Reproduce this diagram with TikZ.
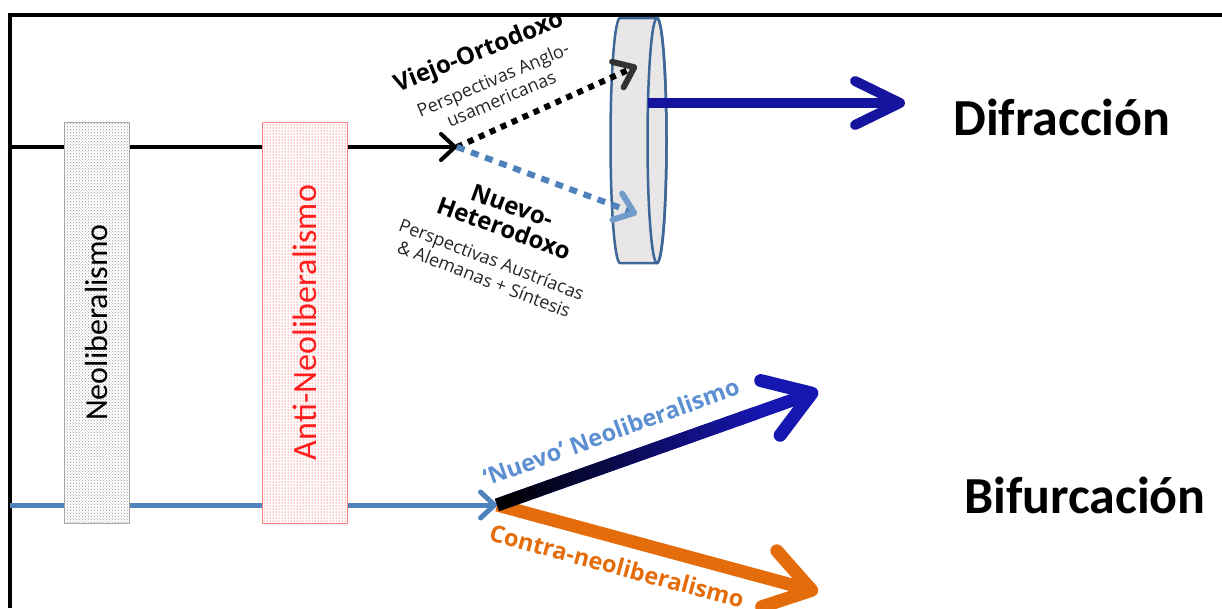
\documentclass[tikz,border=0pt]{standalone}
\usepackage{fontspec}
\setmainfont{Carlito}
\newfontfamily\labelfont{Open Sans}
\usetikzlibrary{arrows.meta,patterns,calc,positioning}
\definecolor{lineblue}{HTML}{4F81BD}
\definecolor{deepblue}{HTML}{1616B0}
\definecolor{diskedge}{HTML}{3C6796}
\definecolor{diskfill}{HTML}{E8E6E6}
\definecolor{textblue}{HTML}{5B8FD2}
\definecolor{contraorange}{HTML}{E46C0A}
\definecolor{antired}{HTML}{FF1E1E}
\tikzstyle{Bar} = [rectangle, rotate=90, minimum width=401pt, inner sep=0pt, preaction={fill=white}]
\tikzstyle{mainlabel} = [font=\fontsize{52}{56}\selectfont\bfseries]
\tikzstyle{branchhead} = [font=\labelfont\fontsize{24}{24}\selectfont\bfseries, align=center, inner sep=0pt]
\tikzstyle{branchsub} = [font=\labelfont\fontsize{18}{21}\selectfont, text=black!85, align=center, inner sep=0pt]
\tikzstyle{fatlabel} = [font=\labelfont\fontsize{23.5}{24}\selectfont\bfseries, inner sep=0pt]
\tikzstyle{thinarrow} = [line width=4pt, -{Straight Barb[length=14pt,width=26pt,round]}]
\tikzstyle{dotarrow} = [line width=6pt, dash pattern=on 6pt off 6pt, -{Straight Barb[length=18pt,width=28pt,round]}]
\tikzstyle{fatarrow} = [line width=13pt, -{Straight Barb[length=44pt,width=58pt,round]}]

\begin{document}
\begin{tikzpicture}[x=1pt,y=-1pt]
\useasboundingbox (0,0) rectangle (1222,608);
% frame
\draw[line width=3.5pt] (10,608) -- (10,15) -- (1222,15);

% disc
\draw[diskedge, fill=diskfill, line width=2.5pt] (657,18) -- (620,18) arc(90:270:9.5pt and 122.5pt) -- (657,263) arc(-90:90:9.5pt and 122.5pt) -- cycle;
\draw[diskedge, line width=2.5pt] (657,140.5) ellipse (9.5pt and 122.5pt);

% points
\coordinate (blackin) at (10,147);
\coordinate (forkA) at (457,147);
\coordinate (viejoend) at (637,66);
\coordinate (nuevoend) at (637,214);
\coordinate (diskout) at (648,103);
\coordinate (difrtip) at (905,103);
\coordinate (bluein) at (10,505);
\coordinate (forkB) at (497,505);
\coordinate (neotip) at (818,391);
\coordinate (contratip) at (818,592);

% lines
\draw[thinarrow, black] (blackin) -- (forkA);
\draw[thinarrow, lineblue, line width=5pt] (bluein) -- (forkB);
\draw[dotarrow, black, -{Straight Barb[length=18pt,width=28pt,round,color=black!80]}] (forkA) -- (viejoend);
\draw[dotarrow, lineblue, dash pattern=on 8pt off 7pt, -{Straight Barb[length=18pt,width=28pt,round,color=lineblue!80]}] (forkA) -- (nuevoend);
\draw[line width=10pt, deepblue!90!black, -{Straight Barb[length=45pt,width=44pt,round]}] (diskout) -- (difrtip);
\draw[fatarrow, contraorange] (forkB) -- (contratip);
\draw[fatarrow, deepblue] (forkB) -- (neotip);
\foreach \k [evaluate=\k as \p using int(5*\k)] in {0,...,19}
  \draw[line width=13pt, deepblue!\p!black] ($(forkB)!{\k/25}!(neotip)$) -- ($(forkB)!{\k/25+0.045}!(neotip)$);

% boxes
\node (neo)[Bar, minimum height=65pt, draw=gray!70, pattern=crosshatch dots, pattern color=gray!80,
  font=\fontsize{32}{34}\selectfont] at (96.5,322.5) {Neoliberalismo};
\node (antineo)[Bar, minimum height=85pt, draw=red!50, pattern=dots, pattern color=red,
  text=antired, font=\fontsize{34}{36}\selectfont] at (304.5,322.5) {Anti-Neoliberalismo};

% labels
\node (difr)[mainlabel] at (1062,117) {Difracción};
\node (bifur)[mainlabel] at (1085,495) {Bifurcación};
\node (viejo)[branchhead, rotate=22] at (479,53) {Viejo-Ortodoxo};
\node (anglo)[branchsub, rotate=23] at (497,89) {Perspectivas Anglo-\\usamericanas};
\node (nuevo)[branchhead, rotate=-20] at (508,217) {Nuevo-\\Heterodoxo};
\node (austria)[branchsub, rotate=-21] at (488,269) {Perspectivas Austríacas\\\& Alemanas + Síntesis};
\node (neolab)[fatlabel, text=textblue, rotate=20] at (611,432) {‘Nuevo’ Neoliberalismo};
\node (contralab)[fatlabel, text=contraorange, rotate=-15] at (617,566) {Contra-neoliberalismo};
\end{tikzpicture}
\end{document}
